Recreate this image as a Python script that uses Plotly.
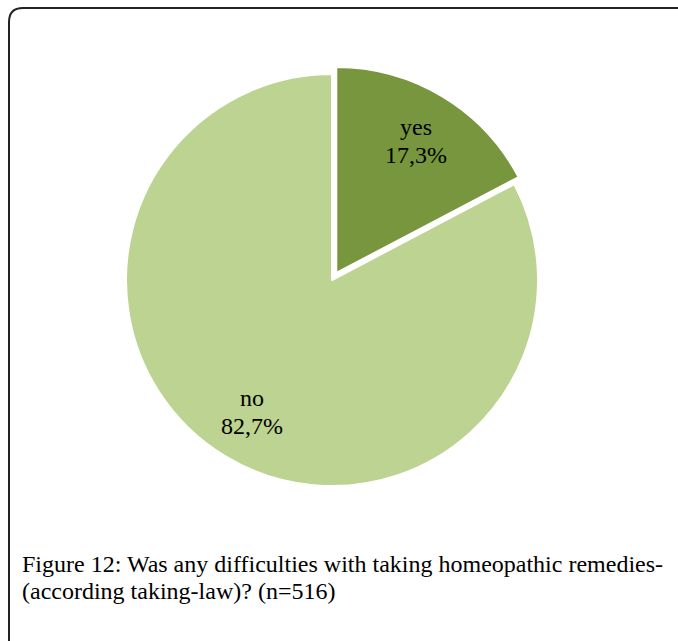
import math
import plotly.graph_objects as go

W, H = 678, 641

labels = ["yes", "no"]
values = [17.3, 82.7]
value_text = ["17,3%", "82,7%"]
colors = ["#77963d", "#bdd391"]
pulls = [0.04, 0.0]
caption_lines = [
    "Figure 12: Was any difficulties with taking homeopathic remedies-",
    "(according taking-law)? (n=516)",
]

def px(x):
    return x / W

def py(y):
    return 1 - y / H

cx, cy, R = 332, 280, 206
half = R * (1 + max(pulls))

fig = go.Figure(go.Pie(
    labels=labels,
    values=values,
    textinfo="none",
    marker=dict(colors=colors, line=dict(color="white", width=2)),
    pull=pulls,
    sort=False,
    direction="clockwise",
    rotation=0,
    hoverinfo="label+percent",
    domain=dict(x=[px(cx - half), px(cx + half)], y=[py(cy + half), py(cy - half)]),
))

# slice labels placed along each slice's bisector
total = sum(values)
cum = 0.0
label_font = dict(family="Liberation Serif", size=24, color="#000000")
for lab, val, vt, pl in zip(labels, values, value_text, pulls):
    theta = 2 * math.pi * (cum + val / 2) / total
    cum += val
    d = R * (pl + 0.75)
    lx = cx + d * math.sin(theta)
    ly = cy - d * math.cos(theta)
    for txt, dy in ((lab, -14), (vt, 14)):
        fig.add_annotation(text=txt, xref="paper", yref="paper",
                           x=px(lx), y=py(ly + dy), xanchor="center", yanchor="middle",
                           showarrow=False, font=label_font)

# border with rounded top-left corner
path = (f"M {px(9)},{py(641)} L {px(9)},{py(22)} "
        f"Q {px(9)},{py(8)} {px(23)},{py(8)} L {px(678)},{py(8)}")
fig.add_shape(type="path", path=path, xref="paper", yref="paper",
              line=dict(color="#222222", width=2))

for i, line in enumerate(caption_lines):
    fig.add_annotation(
        text=line, xref="paper", yref="paper",
        x=px(20), y=py(564 + 27 * i), xanchor="left", yanchor="middle",
        showarrow=False,
        font=dict(family="Liberation Serif", size=24, color="#000000"),
    )

fig.update_layout(
    width=W, height=H,
    margin=dict(l=0, r=0, t=0, b=0),
    paper_bgcolor="white",
    plot_bgcolor="white",
    showlegend=False,
)

fig.write_html("out.html",
               config={"displayModeBar": False},
               post_script="document.body.style.margin='0';document.body.style.overflow='hidden';")
